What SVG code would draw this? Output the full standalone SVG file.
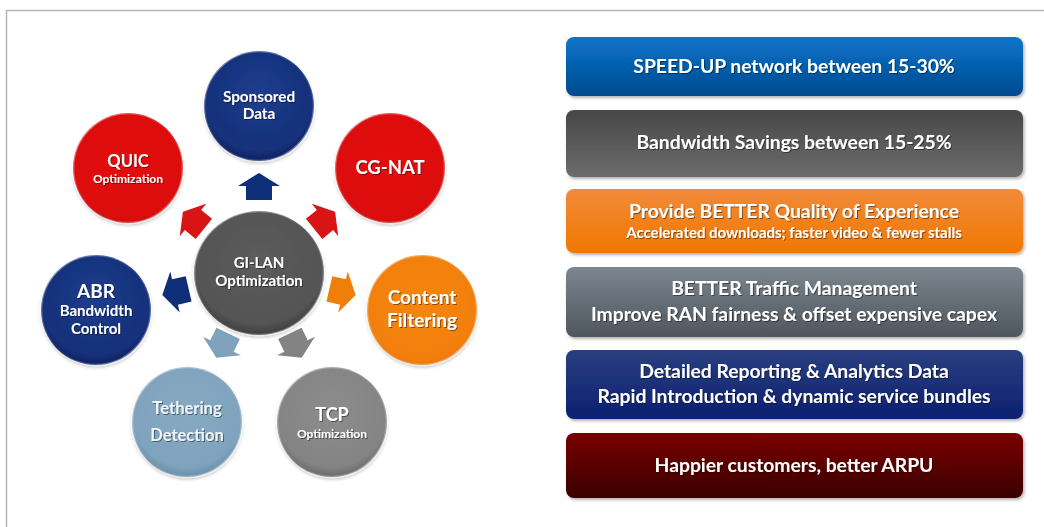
<svg xmlns="http://www.w3.org/2000/svg" width="1044" height="527" viewBox="0 0 1044 527">
<style>
.t{font-family:Lato,"Open Sans","Liberation Sans",sans-serif;font-weight:bold;fill:#fff;text-anchor:middle}
.bx text{filter:url(#ts)}
.nd text{filter:url(#ts)}
.m{font-size:19.3px}
</style>
<defs>
<filter id="ts" x="-10%" y="-30%" width="120%" height="160%"><feDropShadow dx="1" dy="1" stdDeviation="0.6" flood-color="#000" flood-opacity="0.45"/></filter>
<filter id="bs" x="-5%" y="-10%" width="110%" height="130%"><feDropShadow dx="1.5" dy="2" stdDeviation="1.5" flood-color="#000" flood-opacity="0.3"/></filter>
<filter id="cs" x="-10%" y="-10%" width="120%" height="125%"><feDropShadow dx="0" dy="2" stdDeviation="1.5" flood-color="#000" flood-opacity="0.25"/></filter>
<linearGradient id="rim" x1="0" y1="0" x2="1" y2="1"><stop offset="0" stop-color="#fff" stop-opacity="0.6"/><stop offset="0.5" stop-color="#fff" stop-opacity="0.05"/><stop offset="1" stop-color="#fff" stop-opacity="0.5"/></linearGradient>
<radialGradient id="gBlue" cx="0.5" cy="0.4" r="0.6"><stop offset="0" stop-color="#1d3d8e"/><stop offset="0.85" stop-color="#15307a"/><stop offset="1" stop-color="#0e2262"/></radialGradient>
<radialGradient id="gRed" cx="0.5" cy="0.45" r="0.6"><stop offset="0" stop-color="#e40d0d"/><stop offset="0.85" stop-color="#dc1010"/><stop offset="1" stop-color="#b00808"/></radialGradient>
<radialGradient id="gDark" cx="0.5" cy="0.4" r="0.6"><stop offset="0" stop-color="#5c5c5c"/><stop offset="0.85" stop-color="#545454"/><stop offset="1" stop-color="#3e3e3e"/></radialGradient>
<radialGradient id="gOr" cx="0.5" cy="0.45" r="0.6"><stop offset="0" stop-color="#f6860e"/><stop offset="0.85" stop-color="#f27f0a"/><stop offset="1" stop-color="#d86a00"/></radialGradient>
<radialGradient id="gLb" cx="0.5" cy="0.4" r="0.6"><stop offset="0" stop-color="#86aac2"/><stop offset="0.85" stop-color="#7fa3bc"/><stop offset="1" stop-color="#6a8ea8"/></radialGradient>
<radialGradient id="gGr" cx="0.5" cy="0.4" r="0.6"><stop offset="0" stop-color="#8c8c8c"/><stop offset="0.85" stop-color="#848484"/><stop offset="1" stop-color="#6a6a6a"/></radialGradient>
<linearGradient id="b1" x1="0" y1="0" x2="0" y2="1"><stop offset="0" stop-color="#0a74cc"/><stop offset="1" stop-color="#004a8e"/></linearGradient>
<linearGradient id="b2" x1="0" y1="0" x2="0" y2="1"><stop offset="0" stop-color="#474747"/><stop offset="1" stop-color="#6c6c6c"/></linearGradient>
<linearGradient id="b3" x1="0" y1="0" x2="0" y2="1"><stop offset="0" stop-color="#f28a3a"/><stop offset="1" stop-color="#f07800"/></linearGradient>
<linearGradient id="b4" x1="0" y1="0" x2="0" y2="1"><stop offset="0" stop-color="#7c868f"/><stop offset="1" stop-color="#4f565d"/></linearGradient>
<linearGradient id="b5" x1="0" y1="0" x2="0" y2="1"><stop offset="0" stop-color="#2b3f80"/><stop offset="1" stop-color="#0b2070"/></linearGradient>
<linearGradient id="b6" x1="0" y1="0" x2="0" y2="1"><stop offset="0" stop-color="#7a0202"/><stop offset="1" stop-color="#3a0000"/></linearGradient>
<path id="arr" d="M-21,0 L0,-13 L21,0 L13,0 L13,14 L-13,14 L-13,0 Z"/>
</defs>
<rect width="1044" height="527" fill="#fff"/>
<path d="M6.5,527 V10.5 H1044" fill="none" stroke="#b4b4b4" stroke-width="1.5"/>

<g id="connectors">
<use href="#arr" transform="translate(259,186)" fill="#0f2e78"/>
<use href="#arr" transform="translate(193,220) rotate(-51)" fill="#d81414"/>
<use href="#arr" transform="translate(325,220) rotate(51)" fill="#d81414"/>
<use href="#arr" transform="translate(175,292) rotate(-103)" fill="#0f2e78"/>
<use href="#arr" transform="translate(343,292) rotate(103)" fill="#f07f0a"/>
<use href="#arr" transform="translate(222,346) rotate(-154)" fill="#7fa3bc"/>
<use href="#arr" transform="translate(296,346) rotate(154)" fill="#838383"/>
</g>

<g id="n-sponsored" class="nd"><circle cx="259" cy="106" r="55" fill="url(#gBlue)" stroke="url(#rim)" stroke-width="2.5" filter="url(#cs)"/>
<text class="t" x="259" y="102" font-size="15.3">Sponsored</text><text class="t" x="259" y="119" font-size="15.3">Data</text></g>
<g id="n-quic" class="nd"><circle cx="128" cy="168" r="55" fill="url(#gRed)" stroke="url(#rim)" stroke-width="2.5" filter="url(#cs)"/>
<text class="t" x="128" y="167" font-size="16.5">QUIC</text><text class="t" x="128" y="183" font-size="12">Optimization</text></g>
<g id="n-cgnat" class="nd"><circle cx="390" cy="168" r="55" fill="url(#gRed)" stroke="url(#rim)" stroke-width="2.5" filter="url(#cs)"/>
<text class="t" x="390" y="174" font-size="18.5">CG-NAT</text></g>
<g id="n-abr" class="nd"><circle cx="96" cy="310" r="55" fill="url(#gBlue)" stroke="url(#rim)" stroke-width="2.5" filter="url(#cs)"/>
<text class="t" x="96" y="298" font-size="19">ABR</text><text class="t" x="96" y="316" font-size="15">Bandwidth</text><text class="t" x="96" y="334" font-size="15">Control</text></g>
<g id="n-gilan" class="nd"><ellipse cx="259" cy="273" rx="65" ry="62" fill="url(#gDark)" stroke="url(#rim)" stroke-width="2.5" filter="url(#cs)"/>
<text class="t" x="259" y="268" font-size="15">GI-LAN</text><text class="t" x="259" y="286" font-size="15">Optimization</text></g>
<g id="n-content" class="nd"><circle cx="422" cy="310" r="55" fill="url(#gOr)" stroke="url(#rim)" stroke-width="2.5" filter="url(#cs)"/>
<text class="t" x="422" y="304" font-size="19">Content</text><text class="t" x="422" y="327" font-size="19">Filtering</text></g>
<g id="n-tethering" class="nd"><circle cx="187" cy="422" r="55" fill="url(#gLb)" stroke="url(#rim)" stroke-width="2.5" filter="url(#cs)"/>
<text class="t" x="187" y="414" font-size="16.5" style="fill:#eef5fa">Tethering</text><text class="t" x="187" y="441" font-size="16.5" style="fill:#eef5fa">Detection</text></g>
<g id="n-tcp" class="nd"><circle cx="332" cy="422" r="55" fill="url(#gGr)" stroke="url(#rim)" stroke-width="2.5" filter="url(#cs)"/>
<text class="t" x="332" y="421" font-size="18">TCP</text><text class="t" x="332" y="438" font-size="12">Optimization</text></g>

<g id="box1" class="bx"><rect x="566" y="37" width="457" height="59" rx="8" fill="url(#b1)" filter="url(#bs)"/>
<text class="t m" x="794" y="73">SPEED-UP network between 15-30%</text></g>
<g id="box2" class="bx"><rect x="566" y="110" width="457" height="67" rx="8" fill="url(#b2)" filter="url(#bs)"/>
<text class="t m" x="794" y="149">Bandwidth Savings between 15-25%</text></g>
<g id="box3" class="bx"><rect x="566" y="189" width="457" height="64" rx="8" fill="url(#b3)" filter="url(#bs)"/>
<text class="t m" x="794" y="218">Provide BETTER Quality of Experience</text>
<text class="t" x="794" y="238" font-size="15">Accelerated downloads; faster video &amp; fewer stalls</text></g>
<g id="box4" class="bx"><rect x="566" y="267" width="457" height="70" rx="8" fill="url(#b4)" filter="url(#bs)"/>
<text class="t m" x="794" y="295">BETTER Traffic Management</text>
<text class="t m" x="794" y="321">Improve RAN fairness &amp; offset expensive capex</text></g>
<g id="box5" class="bx"><rect x="566" y="350" width="457" height="69" rx="8" fill="url(#b5)" filter="url(#bs)"/>
<text class="t m" x="794" y="378">Detailed Reporting &amp; Analytics Data</text>
<text class="t m" x="794" y="403">Rapid Introduction &amp; dynamic service bundles</text></g>
<g id="box6" class="bx"><rect x="566" y="433" width="457" height="65" rx="8" fill="url(#b6)" filter="url(#bs)"/>
<text class="t m" x="794" y="472">Happier customers, better ARPU</text></g>
</svg>
